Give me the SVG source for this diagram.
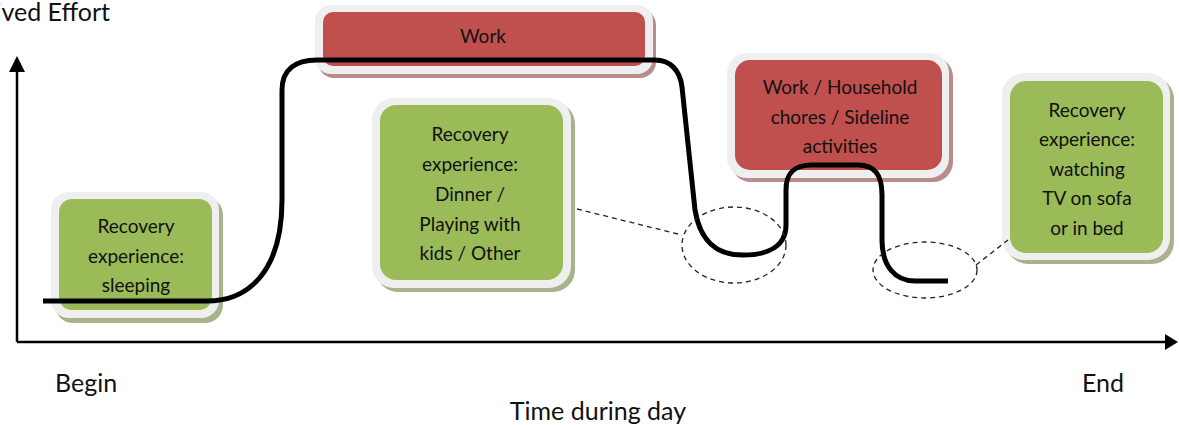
<svg xmlns="http://www.w3.org/2000/svg" width="1179" height="425" viewBox="0 0 1179 425">
<style>
text{font-family:Lato,"Open Sans","Liberation Sans",sans-serif;fill:#111;}
.lbl{font-size:19px;text-anchor:middle;}
.ax{font-size:25px;}
.frame{fill:#efefef;}
.gsh{fill:#a7b38b;}
.rsh{fill:#b98c8c;}
.green{fill:#9bbb59;}
.red{fill:#c0504d;}
.dash{fill:none;stroke:#222;stroke-width:1.3;stroke-dasharray:5,4;}
.axis{fill:none;stroke:#000;stroke-width:2.5;}
</style>
<g id="axes">
<path class="axis" d="M17,342 L17,70 M17,342 L1166,342"/>
<path d="M9,72 L17,56 L25,72 Z M1165,334 L1178,342 L1165,350 Z" fill="#000"/>
<text class="ax" x="110" y="21" text-anchor="end">Perceived Effort</text>
<text class="ax" x="55" y="392">Begin</text>
<text class="ax" x="1082" y="392">End</text>
<text class="ax" x="598" y="420" text-anchor="middle">Time during day</text>
</g>
<g id="box-sleeping">
<rect class="gsh" x="55" y="197" width="168" height="126" rx="18"/>
<rect class="frame" x="51" y="192" width="168" height="126" rx="18"/>
<rect class="green" x="59" y="199" width="153" height="111" rx="13"/>
<text class="lbl" x="136" y="233">Recovery</text>
<text class="lbl" x="136" y="263">experience:</text>
<text class="lbl" x="136" y="292">sleeping</text>
</g>
<g id="box-work">
<rect class="rsh" x="318" y="9" width="338" height="69" rx="16"/>
<rect class="frame" x="315" y="5" width="338" height="69" rx="16"/>
<rect class="red" x="323" y="12" width="322" height="54" rx="10"/>
<text class="lbl" x="483" y="43">Work</text>
</g>
<g id="box-dinner">
<rect class="gsh" x="376" y="102" width="199" height="190" rx="22"/>
<rect class="frame" x="372" y="98" width="199" height="190" rx="22"/>
<rect class="green" x="380" y="105" width="183" height="175" rx="16"/>
<text class="lbl" x="470" y="141">Recovery</text>
<text class="lbl" x="470" y="171">experience:</text>
<text class="lbl" x="470" y="201">Dinner /</text>
<text class="lbl" x="470" y="231">Playing with</text>
<text class="lbl" x="470" y="260">kids / Other</text>
</g>
<g id="box-household">
<rect class="rsh" x="731" y="57" width="222" height="125" rx="20"/>
<rect class="frame" x="727" y="53" width="222" height="125" rx="20"/>
<rect class="red" x="735" y="60" width="207" height="110" rx="15"/>
<text class="lbl" x="840" y="94">Work / Household</text>
<text class="lbl" x="840" y="124">chores / Sideline</text>
<text class="lbl" x="840" y="153">activities</text>
</g>
<g id="box-tv">
<rect class="gsh" x="1006" y="77" width="168" height="187" rx="22"/>
<rect class="frame" x="1002" y="73" width="168" height="187" rx="22"/>
<rect class="green" x="1010" y="81" width="153" height="172" rx="16"/>
<text class="lbl" x="1087" y="117">Recovery</text>
<text class="lbl" x="1087" y="146">experience:</text>
<text class="lbl" x="1087" y="176">watching</text>
<text class="lbl" x="1087" y="205">TV on sofa</text>
<text class="lbl" x="1087" y="235">or in bed</text>
</g>
<g id="connectors">
<path d="M43,301 L207,301 C248,301 282,272 282,200 L282,90 C282,70 295,60 317,60 L655,60 C670,60 680,70 682,87 L695,210 C700,240 715,255 743,255 C770,255 786,245 786,225 L786,190 C786,172 795,165 812,165 L858,165 C875,165 882,175 882,195 L882,240 C882,266 895,281 915,281 L948,281" fill="none" stroke="#000" stroke-width="5"/>
<ellipse class="dash" cx="734" cy="245" rx="52" ry="38"/>
<ellipse class="dash" cx="925" cy="270" rx="52" ry="28"/>
<path class="dash" d="M577,209 L682,235"/>
<path class="dash" d="M976,265 L1008,240"/>
</g>
</svg>
